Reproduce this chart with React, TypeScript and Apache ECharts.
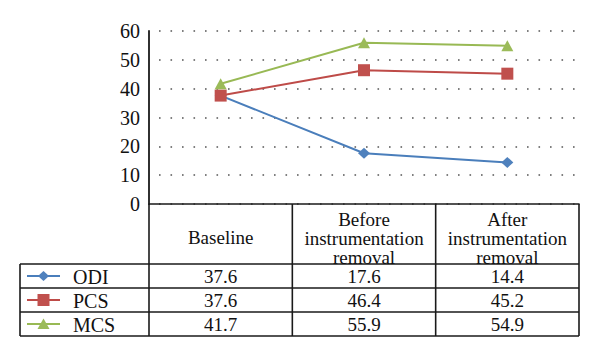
import React, { useEffect, useRef } from "react";
import * as echarts from "echarts";

const categories = ["Baseline", "Before\ninstrumentation\nremoval", "After\ninstrumentation\nremoval"];
const seriesNames = ["ODI", "PCS", "MCS"];
const odiValues = [37.6, 17.6, 14.4];
const pcsValues = [37.6, 46.4, 45.2];
const mcsValues = [41.7, 55.9, 54.9];
const yTicks = [0, 10, 20, 30, 40, 50, 60];

const lineColors = ["#4a7ebb", "#be4b48", "#98b954"];
const markerColors = ["#4f81bd", "#c0504d", "#9bbb59"];
const symbols = ["diamond", "rect", "triangle"];
const symbolSizes: any[] = [[12, 11], [12, 12], [12, 11]];

const FONT = "'Liberation Serif', 'Times New Roman', serif";
const FS = 19;
const W = 600;
const H = 359;
const GRID = { left: 149, right: 21, top: 31, bottom: 155 };
const TABLE_LEFT = 20;
const HEADER_BOTTOM = 264;
const ROW_H = 24;
const BORDER = "#1a1a1a";

export default function App() {
  const ref = useRef<HTMLDivElement>(null);
  useEffect(() => {
    if (!ref.current) return;
    const chart = echarts.init(ref.current, null, { renderer: "svg" });
    const allValues = [odiValues, pcsValues, mcsValues];
    chart.setOption({
      animation: false,
      textStyle: { fontFamily: FONT },
      grid: { ...GRID, containLabel: false },
      xAxis: {
        type: "category",
        data: categories,
        boundaryGap: true,
        axisLine: { show: true, lineStyle: { color: BORDER, width: 1.6 } },
        axisTick: { show: false },
        axisLabel: { show: false },
        splitLine: { show: false },
      },
      yAxis: {
        type: "value",
        min: yTicks[0],
        max: yTicks[yTicks.length - 1],
        interval: 10,
        axisLine: { show: true, lineStyle: { color: BORDER, width: 1.8 } },
        axisTick: { show: false },
        axisLabel: { color: "#111", fontFamily: FONT, fontSize: 20, margin: 9 },
        splitLine: { show: true, lineStyle: { color: "#555", width: 1.6, type: [1.6, 9.9], dashOffset: -10 } },
      },
      series: seriesNames.map((n, i) => ({
        name: n,
        type: "line",
        data: allValues[i],
        symbol: symbols[i],
        symbolSize: symbolSizes[i],
        lineStyle: { color: lineColors[i], width: 2 },
        itemStyle: { color: markerColors[i] },
        z: 3 + i,
      })),
    });

    const xs = categories.map((_, i) => chart.convertToPixel({ xAxisIndex: 0 }, i) as number);
    const colW = (W - GRID.left - GRID.right) / categories.length;
    const right = W - GRID.right;
    const top = H - GRID.bottom;
    const bottom = HEADER_BOTTOM + ROW_H * seriesNames.length;
    const g: any[] = [];
    const line = (x1: number, y1: number, x2: number, y2: number) =>
      g.push({ type: "line", shape: { x1, y1, x2, y2 }, style: { stroke: BORDER, lineWidth: 1.6 }, z: 10 });
    line(GRID.left, top, GRID.left, bottom);
    for (let i = 1; i <= categories.length; i++) line(GRID.left + colW * i, top, GRID.left + colW * i, bottom);
    line(TABLE_LEFT, HEADER_BOTTOM, TABLE_LEFT, bottom);
    for (let r = 0; r <= seriesNames.length; r++) line(TABLE_LEFT, HEADER_BOTTOM + ROW_H * r, right, HEADER_BOTTOM + ROW_H * r);
    categories.forEach((c, i) => {
      const multi = c.indexOf("\n") >= 0;
      g.push({
        type: "text",
        x: xs[i],
        y: (top + HEADER_BOTTOM) / 2 + (multi ? 4.5 : 3),
        style: { text: c, fontFamily: FONT, fontSize: FS, lineHeight: 19, fill: "#111", align: "center", verticalAlign: "middle" },
        z: 10,
      });
    });
    seriesNames.forEach((n, r) => {
      const cy = HEADER_BOTTOM + ROW_H * r + ROW_H / 2;
      g.push({ type: "line", shape: { x1: 27, y1: cy, x2: 60, y2: cy }, style: { stroke: lineColors[r], lineWidth: 2 }, z: 10 });
      const mx = 43.5;
      if (symbols[r] === "diamond") {
        g.push({ type: "polygon", shape: { points: [[mx, cy - 5], [mx + 5.5, cy], [mx, cy + 5], [mx - 5.5, cy]] }, style: { fill: markerColors[r] }, z: 11 });
      } else if (symbols[r] === "rect") {
        g.push({ type: "rect", shape: { x: mx - 6, y: cy - 6, width: 12, height: 12 }, style: { fill: markerColors[r] }, z: 11 });
      } else {
        g.push({ type: "polygon", shape: { points: [[mx, cy - 5.5], [mx + 6, cy + 5], [mx - 6, cy + 5]] }, style: { fill: markerColors[r] }, z: 11 });
      }
      g.push({
        type: "text",
        x: 73,
        y: cy + 1,
        style: { text: n, fontFamily: FONT, fontSize: FS + 1, fill: "#111", align: "left", verticalAlign: "middle" },
        z: 10,
      });
      allValues[r].forEach((v, i) => {
        g.push({
          type: "text",
          x: xs[i],
          y: cy + 0.5,
          style: { text: v.toFixed(1), fontFamily: FONT, fontSize: FS, fill: "#111", align: "center", verticalAlign: "middle" },
          z: 10,
        });
      });
    });
    chart.setOption({ graphic: g });
    return () => chart.dispose();
  }, []);
  return <div ref={ref} style={{ position: "absolute", left: 0, top: 0, width: W, height: H, background: "#fff" }} />;
}
